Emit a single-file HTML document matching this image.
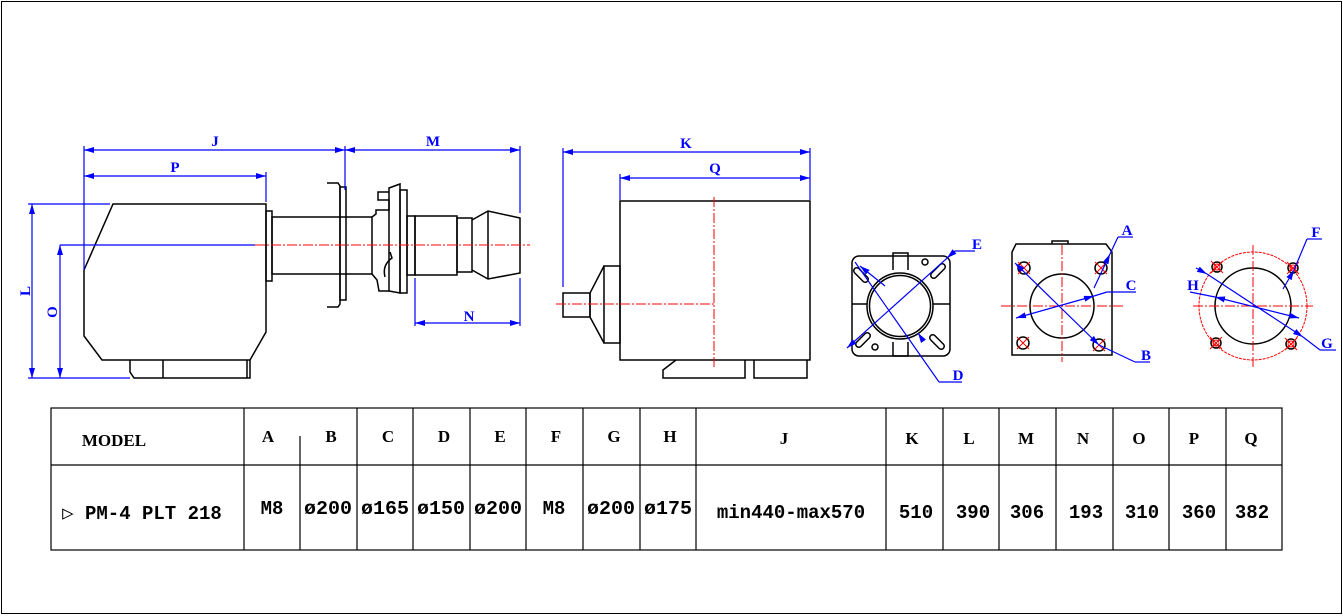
<!DOCTYPE html>
<html><head><meta charset="utf-8"><style>
html,body{margin:0;padding:0;background:#fff;}
svg{display:block;}
.k{stroke:#000;stroke-width:1.5;fill:none;}
.b{stroke:#0000ff;stroke-width:1.2;fill:none;}
.r{stroke:#ff0000;stroke-width:1;fill:none;stroke-dasharray:10 2 2 2;}
.rs{stroke:#ff0000;stroke-width:1;fill:none;}
.bl{font-family:"Liberation Serif",serif;font-weight:bold;font-size:15px;fill:#0000ff;}
.th{font-family:"Liberation Serif",serif;font-weight:bold;font-size:17px;fill:#000;}
.td{font-family:"Liberation Mono",monospace;font-weight:bold;font-size:19px;fill:#000;}
</style></head><body>
<svg width="1343" height="616" viewBox="0 0 1343 616" xmlns="http://www.w3.org/2000/svg">
<defs>
<marker id="a" viewBox="0 0 10 6" refX="10" refY="3" markerWidth="10" markerHeight="6" orient="auto-start-reverse" markerUnits="userSpaceOnUse"><path d="M0,0 L10,3 L0,6 z" fill="#0000ff"/></marker>
</defs>
<rect x="1.5" y="1.5" width="1340" height="612" fill="none" stroke="#000" stroke-width="1"/>

<!-- LEFT DRAWING -->
<g class="k">
<path d="M113,204 H266 V332 L250,360 H102 L84,336 V270 Z"/>
<path d="M130,360 V372 L134,378 H250 V360 M163,360 V378 M247,360 V378"/>
<rect x="266" y="211" width="6" height="70"/>
<rect x="272" y="217" width="100" height="57"/>
<path d="M327,183 H338 L340,186 V304 L338,307 H327"/>
<rect x="340" y="187" width="6" height="113"/>
<path d="M372,217 L376,214 V210 H389 V200 H378 V192 H389 M372,274 L377,280 L379,291 H389"/>
<path d="M389,188 L400,184 V293 L389,291 Z"/>
<rect x="400" y="190" width="7" height="103"/>
<path d="M385,277 Q382,265 392,258 L390,252"/>
<rect x="407" y="216" width="8" height="59"/>
<rect x="415" y="216" width="42" height="59"/>
<rect x="457" y="218" width="15" height="54"/>
<path d="M472,220 L488,211 L520,218 V273 L488,279 L472,270 M488,211 V279"/>
</g>
<line x1="60" y1="245" x2="255" y2="245" class="b"/>
<line x1="255" y1="245" x2="530" y2="245" class="r"/>
<g class="b">
<line x1="84" y1="150" x2="345" y2="150" marker-start="url(#a)" marker-end="url(#a)"/>
<line x1="345" y1="150" x2="520" y2="150" marker-start="url(#a)" marker-end="url(#a)"/>
<line x1="84" y1="176" x2="266" y2="176" marker-start="url(#a)" marker-end="url(#a)"/>
<line x1="84" y1="146" x2="84" y2="270"/>
<line x1="345" y1="146" x2="345" y2="190"/>
<line x1="520" y1="146" x2="520" y2="213"/>
<line x1="266" y1="172" x2="266" y2="202"/>
<line x1="32" y1="204" x2="32" y2="378" marker-start="url(#a)" marker-end="url(#a)"/>
<line x1="28" y1="204" x2="110" y2="204"/>
<line x1="60" y1="245" x2="60" y2="378" marker-start="url(#a)" marker-end="url(#a)"/>
<line x1="28" y1="378" x2="130" y2="378"/>
<line x1="415" y1="323" x2="520" y2="323" marker-start="url(#a)" marker-end="url(#a)"/>
<line x1="415" y1="278" x2="415" y2="326"/>
<line x1="520" y1="278" x2="520" y2="326"/>
</g>
<text class="bl" x="215" y="146" text-anchor="middle">J</text>
<text class="bl" x="433" y="146" text-anchor="middle">M</text>
<text class="bl" x="175" y="172" text-anchor="middle">P</text>
<text class="bl" x="469" y="321" text-anchor="middle">N</text>
<text class="bl" x="0" y="0" transform="translate(30,291) rotate(-90)" text-anchor="middle">L</text>
<text class="bl" x="0" y="0" transform="translate(57,312) rotate(-90)" text-anchor="middle">O</text>

<!-- MIDDLE DRAWING -->
<g class="k">
<rect x="620" y="201" width="190" height="159"/>
<rect x="604" y="266" width="16" height="77"/>
<path d="M604,266 L590,293 V317 L604,343"/>
<rect x="563" y="293" width="27" height="24"/>
<path d="M676,360 L663,370 V378 H745 V360"/>
<path d="M754,360 V378 H807 V360"/>
</g>
<line x1="714" y1="197" x2="714" y2="369" class="r"/>
<line x1="556" y1="304" x2="714" y2="304" class="r"/>
<g class="b">
<line x1="563" y1="152" x2="810" y2="152" marker-start="url(#a)" marker-end="url(#a)"/>
<line x1="620" y1="178" x2="810" y2="178" marker-start="url(#a)" marker-end="url(#a)"/>
<line x1="563" y1="148" x2="563" y2="287"/>
<line x1="810" y1="148" x2="810" y2="200"/>
<line x1="620" y1="174" x2="620" y2="200"/>
</g>
<text class="bl" x="686" y="148" text-anchor="middle">K</text>
<text class="bl" x="715" y="173" text-anchor="middle">Q</text>

<!-- SQUARE FLANGE -->
<g class="k">
<rect x="852" y="256" width="98" height="100" rx="7"/>
<circle cx="900" cy="306" r="33"/>
<circle cx="900" cy="306" r="30.5"/>
<path d="M893,270 V253 H908 V270 M893,342 V356 H908 V342"/>
<path d="M852,304 H867 M933,304 H950"/>
<rect x="858" y="266" width="6" height="18" rx="3" transform="rotate(-45 861 275)"/>
<rect x="935" y="262" width="6" height="18" rx="3" transform="rotate(45 938 271)"/>
<rect x="860" y="331" width="6" height="18" rx="3" transform="rotate(45 863 340)"/>
<rect x="934" y="333" width="6" height="18" rx="3" transform="rotate(-45 937 342)"/>
<circle cx="925" cy="262" r="3"/>
<circle cx="875" cy="347" r="3"/>
</g>
<g class="b">
<line x1="975" y1="251" x2="955" y2="251"/>
<line x1="955" y1="251" x2="847" y2="348" marker-end="url(#a)"/>
<line x1="955" y1="251" x2="947" y2="258" marker-end="url(#a)"/>
<line x1="855" y1="262" x2="939" y2="382"/>
<line x1="939" y1="382" x2="962" y2="382"/>
<line x1="920" y1="336" x2="918" y2="333" marker-end="url(#a)"/>
<line x1="885" y1="286" x2="860" y2="266" marker-end="url(#a)"/>
</g>
<text class="bl" x="977" y="249" text-anchor="middle">E</text>
<text class="bl" x="958" y="380" text-anchor="middle">D</text>

<!-- PLATE -->
<g class="k">
<path d="M1016,244 H1106 L1112,252 V355 H1012 V252 Z"/>
<circle cx="1062" cy="306" r="32"/>
<path d="M1052,244 V241 H1068 V244"/>
<circle cx="1024" cy="268" r="6"/><circle cx="1101" cy="268" r="6"/>
<circle cx="1023" cy="343" r="6"/><circle cx="1099" cy="345" r="6"/>
</g>
<g class="rs">
<path d="M1018,262 l12,12 M1030,262 l-12,12 M1095,262 l12,12 M1107,262 l-12,12 M1017,337 l12,12 M1029,337 l-12,12 M1093,339 l12,12 M1105,339 l-12,12"/>
</g>
<line x1="1001" y1="306" x2="1123" y2="306" class="r"/>
<line x1="1062" y1="245" x2="1062" y2="362" class="r"/>
<g class="b">
<line x1="1015" y1="263" x2="1099" y2="345" marker-start="url(#a)" marker-end="url(#a)"/>
<line x1="1099" y1="345" x2="1135" y2="362"/><line x1="1135" y1="362" x2="1150" y2="362"/>
<line x1="1016" y1="318" x2="1094" y2="296" marker-start="url(#a)" marker-end="url(#a)"/>
<line x1="1094" y1="296" x2="1107" y2="292"/><line x1="1107" y1="292" x2="1136" y2="292"/>
<line x1="1094" y1="288" x2="1110" y2="254" marker-end="url(#a)"/>
<line x1="1110" y1="254" x2="1118" y2="237"/><line x1="1118" y1="237" x2="1133" y2="237"/>
</g>
<text class="bl" x="1127" y="235" text-anchor="middle">A</text>
<text class="bl" x="1131" y="290" text-anchor="middle">C</text>
<text class="bl" x="1146" y="360" text-anchor="middle">B</text>

<!-- RING -->
<circle cx="1253" cy="306" r="54" fill="none" stroke="#ff0000" stroke-width="1" stroke-dasharray="3 1"/>
<circle cx="1253" cy="306" r="38" class="k"/>
<g class="k">
<circle cx="1217" cy="267" r="5"/><circle cx="1293" cy="268" r="5"/>
<circle cx="1216" cy="343" r="5"/><circle cx="1291" cy="344" r="5"/>
</g>
<g class="rs">
<circle cx="1217" cy="267" r="3"/><circle cx="1293" cy="268" r="3"/>
<circle cx="1216" cy="343" r="3"/><circle cx="1291" cy="344" r="3"/>
<path d="M1211,261 l12,12 M1223,261 l-12,12 M1287,262 l12,12 M1299,262 l-12,12 M1210,337 l12,12 M1222,337 l-12,12 M1285,338 l12,12 M1297,338 l-12,12"/>
</g>
<line x1="1193" y1="306" x2="1313" y2="306" class="r"/>
<line x1="1253" y1="245" x2="1253" y2="368" class="r"/>
<g class="b">
<line x1="1196" y1="268" x2="1207" y2="274" marker-end="url(#a)"/>
<line x1="1207" y1="274" x2="1303" y2="337" marker-end="url(#a)"/>
<line x1="1303" y1="337" x2="1320" y2="350"/><line x1="1320" y1="350" x2="1336" y2="350"/>
<line x1="1190" y1="292" x2="1215" y2="297"/>
<line x1="1215" y1="297" x2="1299" y2="318" marker-start="url(#a)" marker-end="url(#a)"/>
<line x1="1283" y1="289" x2="1294" y2="270" marker-end="url(#a)"/>
<line x1="1294" y1="270" x2="1307" y2="239"/><line x1="1307" y1="239" x2="1322" y2="239"/>
</g>
<text class="bl" x="1316" y="237" text-anchor="middle">F</text>
<text class="bl" x="1193" y="290" text-anchor="middle">H</text>
<text class="bl" x="1327" y="348" text-anchor="middle">G</text>

<!-- TABLE -->
<g stroke="#000" stroke-width="1.2" fill="none">
<rect x="51" y="408" width="1231" height="142"/>
<line x1="51" y1="465" x2="1282" y2="465"/>
<line x1="244" y1="408" x2="244" y2="550"/>
<line x1="300" y1="436" x2="300" y2="550"/>
<line x1="357" y1="408" x2="357" y2="550"/>
<line x1="413" y1="408" x2="413" y2="550"/>
<line x1="470" y1="408" x2="470" y2="550"/>
<line x1="526" y1="408" x2="526" y2="550"/>
<line x1="583" y1="408" x2="583" y2="550"/>
<line x1="640" y1="408" x2="640" y2="550"/>
<line x1="696" y1="408" x2="696" y2="550"/>
<line x1="886" y1="408" x2="886" y2="550"/>
<line x1="943" y1="408" x2="943" y2="550"/>
<line x1="999" y1="408" x2="999" y2="550"/>
<line x1="1056" y1="408" x2="1056" y2="550"/>
<line x1="1113" y1="408" x2="1113" y2="550"/>
<line x1="1169" y1="408" x2="1169" y2="550"/>
<line x1="1226" y1="408" x2="1226" y2="550"/>
</g>
<g class="th" text-anchor="middle">
<text x="114" y="446">MODEL</text>
<text x="268" y="442">A</text><text x="331" y="442">B</text><text x="388" y="442">C</text>
<text x="444" y="442">D</text><text x="500" y="442">E</text><text x="556" y="442">F</text>
<text x="614" y="442">G</text><text x="670" y="442">H</text><text x="784" y="444">J</text>
<text x="912" y="444">K</text><text x="969" y="444">L</text><text x="1026" y="444">M</text>
<text x="1083" y="444">N</text><text x="1139" y="444">O</text><text x="1194" y="444">P</text>
<text x="1251" y="444">Q</text>
</g>
<g class="td" text-anchor="middle">
<text x="142" y="519">▷ PM-4 PLT 218</text>
<text x="272" y="514">M8</text><text x="328" y="514" textLength="48" lengthAdjust="spacingAndGlyphs">ø200</text><text x="385" y="514" textLength="48" lengthAdjust="spacingAndGlyphs">ø165</text>
<text x="441" y="514" textLength="48" lengthAdjust="spacingAndGlyphs">ø150</text><text x="498" y="514" textLength="48" lengthAdjust="spacingAndGlyphs">ø200</text><text x="554" y="514">M8</text>
<text x="611" y="514" textLength="48" lengthAdjust="spacingAndGlyphs">ø200</text><text x="668" y="514" textLength="48" lengthAdjust="spacingAndGlyphs">ø175</text>
<text x="791" y="518">min440-max570</text>
<text x="916" y="518">510</text><text x="973" y="518">390</text><text x="1027" y="518">306</text>
<text x="1086" y="518">193</text><text x="1142" y="518">310</text><text x="1199" y="518">360</text>
<text x="1252" y="518">382</text>
</g>
</svg>
</body></html>
